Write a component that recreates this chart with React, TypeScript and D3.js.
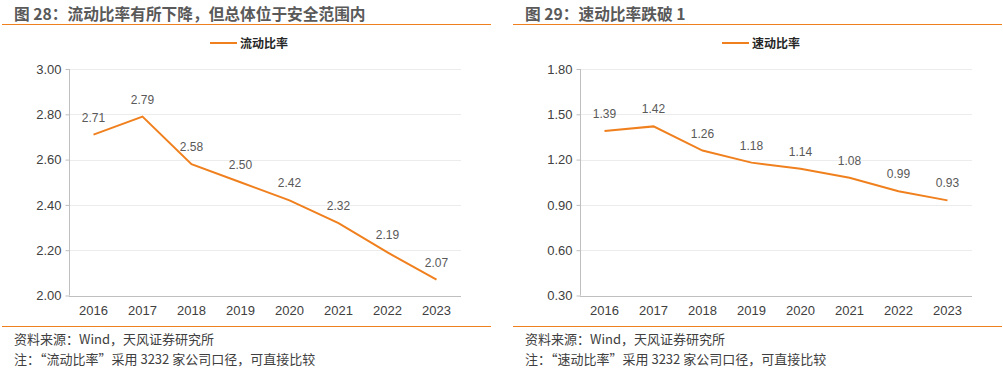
import React, { useEffect, useRef } from "react";
import * as d3 from "d3";

const years = ["2016", "2017", "2018", "2019", "2020", "2021", "2022", "2023"];
const currentRatio = [2.71, 2.79, 2.58, 2.5, 2.42, 2.32, 2.19, 2.07];
const quickRatio = [1.39, 1.42, 1.26, 1.18, 1.14, 1.08, 0.99, 0.93];
const currentTicks = [2.0, 2.2, 2.4, 2.6, 2.8, 3.0];
const quickTicks = [0.3, 0.6, 0.9, 1.2, 1.5, 1.8];

const ORANGE = "#f0801e";
const FONT = '"Liberation Sans", Arial, "Noto Sans CJK SC", sans-serif';
const CJK = '"Noto Sans CJK SC", "Liberation Sans", sans-serif';

function Panel({ x0, axisX, legendX, title, name, values, ticks, note }) {
  const ref = useRef(null);

  useEffect(() => {
    const g = d3.select(ref.current);
    g.selectAll("*").remove();

    const plotLeft = axisX;
    const plotRight = axisX + 392;
    const top = 69;
    const bottom = 295.5;

    const x = d3.scaleBand().domain(years).range([plotLeft, plotRight]);
    const y = d3
      .scaleLinear()
      .domain([ticks[0], ticks[ticks.length - 1]])
      .range([bottom, top]);

    // title + rules
    g.append("text")
      .attr("x", x0 + 12)
      .attr("y", 19.5)
      .attr("font-family", CJK)
      .attr("font-size", 15.7)
      .attr("font-weight", "bold")
      .attr("fill", "#595959")
      .text(title);
    g.append("line")
      .attr("x1", x0)
      .attr("x2", x0 + 489)
      .attr("y1", 24.5)
      .attr("y2", 24.5)
      .attr("stroke", ORANGE)
      .attr("stroke-width", 1.2);
    g.append("line")
      .attr("x1", x0)
      .attr("x2", x0 + 489)
      .attr("y1", 326.5)
      .attr("y2", 326.5)
      .attr("stroke", ORANGE)
      .attr("stroke-width", 1.2);

    // legend
    g.append("line")
      .attr("x1", legendX)
      .attr("x2", legendX + 27)
      .attr("y1", 43)
      .attr("y2", 43)
      .attr("stroke", ORANGE)
      .attr("stroke-width", 2);
    g.append("text")
      .attr("x", legendX + 30)
      .attr("y", 47.5)
      .attr("font-family", CJK)
      .attr("font-size", 12)
      .attr("font-weight", "bold")
      .attr("fill", "#262626")
      .text(name);

    // grid
    g.append("g")
      .selectAll("line")
      .data(ticks.slice(1))
      .join("line")
      .attr("x1", plotLeft)
      .attr("x2", plotRight)
      .attr("y1", (d) => Math.round(y(d)) + 0.5)
      .attr("y2", (d) => Math.round(y(d)) + 0.5)
      .attr("stroke", "#ececec");

    // y axis
    const yAxis = d3
      .axisLeft(y)
      .tickValues(ticks)
      .tickSize(4)
      .tickFormat(d3.format(".2f"));
    g.append("g")
      .attr("transform", `translate(${plotLeft + 0.5},0)`)
      .call(yAxis)
      .call((s) => s.selectAll("path,line").attr("stroke", "#bfbfbf"))
      .call((s) => s.select(".domain").attr("d", `M0,${top}V${bottom}`))
      .call((s) =>
        s
          .selectAll("text")
          .attr("font-family", FONT)
          .attr("font-size", 13)
          .attr("fill", "#404040")
          .attr("x", -8)
      );

    // x axis
    const xAxis = d3.axisBottom(x).tickSize(0).tickPadding(9);
    g.append("g")
      .attr("transform", `translate(0,${Math.round(bottom) + 0.5})`)
      .call(xAxis)
      .call((s) =>
        s.select(".domain").attr("stroke", "#bfbfbf").attr("d", `M${plotLeft},0H${plotRight}`)
      )
      .call((s) =>
        s
          .selectAll("text")
          .attr("font-family", FONT)
          .attr("font-size", 13)
          .attr("fill", "#404040")
      );

    const cx = (d, i) => x(years[i]) + x.bandwidth() / 2;

    const line = d3
      .line()
      .x((d, i) => cx(d, i))
      .y((d) => y(d));
    g.append("path")
      .attr("d", line(values))
      .attr("fill", "none")
      .attr("stroke", ORANGE)
      .attr("stroke-width", 2);

    g.append("g")
      .selectAll("text")
      .data(values)
      .join("text")
      .attr("x", (d, i) => cx(d, i))
      .attr("y", (d) => y(d) - 13)
      .attr("text-anchor", "middle")
      .attr("font-family", FONT)
      .attr("font-size", 12)
      .attr("fill", "#595959")
      .text((d) => d3.format(".2f")(d));

    // footnotes
    g.append("text")
      .attr("x", x0 + 12)
      .attr("y", 343.5)
      .attr("font-family", CJK)
      .attr("font-size", 13)
      .attr("fill", "#404040")
      .text("资料来源：Wind，天风证券研究所");
    g.append("text")
      .attr("x", x0 + 12)
      .attr("y", 364)
      .attr("font-family", CJK)
      .attr("font-size", 13)
      .attr("fill", "#404040")
      .text(note);
  }, []);

  return <g ref={ref} />;
}

export default function App() {
  return (
    <div style={{ position: "absolute", left: 0, top: 0 }}>
      <svg width={1003} height={372} style={{ display: "block", background: "#fff" }}>
        <Panel
          x0={2}
          axisX={69}
          legendX={210}
          title="图 28：流动比率有所下降，但总体位于安全范围内"
          name="流动比率"
          values={currentRatio}
          ticks={currentTicks}
          note="注：“流动比率”采用 3232 家公司口径，可直接比较"
        />
        <Panel
          x0={513}
          axisX={580}
          legendX={722}
          title="图 29：速动比率跌破 1"
          name="速动比率"
          values={quickRatio}
          ticks={quickTicks}
          note="注：“速动比率”采用 3232 家公司口径，可直接比较"
        />
      </svg>
    </div>
  );
}
